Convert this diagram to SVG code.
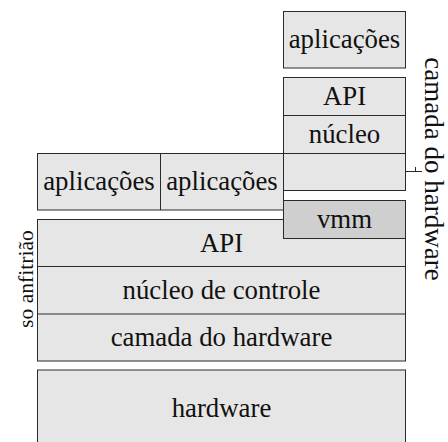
<svg xmlns="http://www.w3.org/2000/svg" width="448" height="442" viewBox="0 0 448 442">
  <style>
    .box { fill: #e6e6e6; stroke: #2a2a2a; stroke-width: 1; }
    .vmm { fill: #cfcfcf; stroke: #2a2a2a; stroke-width: 1; }
    .div { stroke: #2a2a2a; stroke-width: 1; fill: none; }
    .lbl { font-family: "Liberation Serif", "Times New Roman", serif; font-size: 26.8px; fill: #111; text-anchor: middle; }
    .side { font-family: "Liberation Serif", "Times New Roman", serif; fill: #111; text-anchor: middle; }
  </style>

  <!-- guest applications -->
  <g id="guest-apps">
    <rect class="box" x="283.5" y="11.5" width="122" height="56.5"/>
    <text class="lbl" x="344.5" y="48.4">aplicações</text>
  </g>

  <!-- guest OS stack: API / núcleo / hardware layer -->
  <g id="guest-os">
    <rect class="box" x="283.5" y="77.5" width="122" height="113"/>
    <line class="div" x1="283.5" y1="115.5" x2="405.5" y2="115.5"/>
    <line class="div" x1="283.5" y1="153.5" x2="405.5" y2="153.5"/>
    <text class="lbl" x="344.5" y="105.2">API</text>
    <text class="lbl" x="344.5" y="143.2">núcleo</text>
  </g>

  <!-- host applications -->
  <g id="host-apps">
    <rect class="box" x="37.5" y="153.5" width="246" height="56.5"/>
    <line class="div" x1="160.5" y1="153.5" x2="160.5" y2="210"/>
    <text class="lbl" x="99" y="190.4">aplicações</text>
    <text class="lbl" x="222" y="190.4">aplicações</text>
  </g>

  <!-- host OS stack -->
  <g id="host-os">
    <rect class="box" x="37.5" y="219.5" width="368" height="141.5"/>
    <line class="div" x1="37.5" y1="266.5" x2="405.5" y2="266.5"/>
    <line class="div" x1="37.5" y1="314" x2="405.5" y2="314"/>
    <text class="lbl" x="221.5" y="251.7">API</text>
    <text class="lbl" x="221.5" y="299">núcleo de controle</text>
    <text class="lbl" x="221.5" y="345.6">camada do hardware</text>
  </g>

  <!-- virtual machine monitor -->
  <g id="vmm">
    <rect class="vmm" x="283.5" y="200.5" width="122" height="38"/>
    <line class="div" x1="405.5" y1="219.5" x2="405.5" y2="238.5"/>
    <text class="lbl" x="344.5" y="228.2">vmm</text>
  </g>

  <!-- physical hardware -->
  <g id="hardware">
    <rect class="box" x="37.5" y="370" width="368" height="90"/>
    <text class="lbl" x="221.5" y="417.3">hardware</text>
  </g>

  <!-- side labels -->
  <g id="label-host">
    <text class="side" font-size="21.6" transform="translate(33,279) rotate(-90)">so anfitrião</text>
  </g>
  <g id="label-guest-hw">
    <text class="side" font-size="27" transform="translate(425,169) rotate(90)">camada do hardware</text>
  </g>

  <!-- leader from the empty guest layer to its side label -->
  <g id="connectors">
    <line class="div" x1="405.5" y1="171.5" x2="422" y2="171.5"/>
    <line class="div" x1="415.5" y1="167" x2="415.5" y2="171.5" stroke-width="0.6"/>
  </g>
</svg>
